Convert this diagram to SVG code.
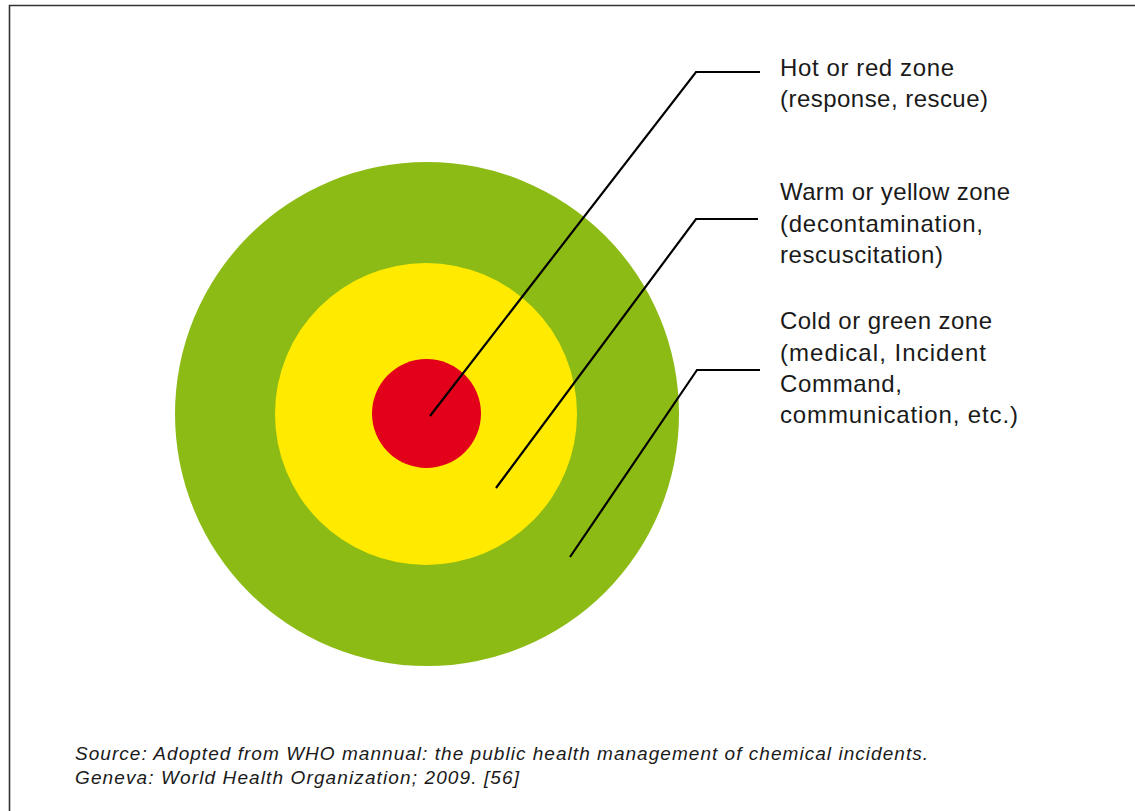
<svg xmlns="http://www.w3.org/2000/svg" width="1135" height="811" viewBox="0 0 1135 811">
<style>
.lbl{font-family:"Liberation Sans",Arial,sans-serif;font-size:24px;fill:#1a1a1a}
.src{font-family:"Liberation Sans",Arial,sans-serif;font-size:19px;font-style:italic;fill:#1a1a1a}
.ln{fill:none;stroke:#000;stroke-width:2.2}
</style>
<rect width="1135" height="811" fill="#fff"/>
<path d="M9.5,811 V5.5 H1135" fill="none" stroke="#333" stroke-width="1.6"/>
<g id="green-zone"><circle cx="427" cy="414" r="252" fill="#8DBB15"/></g>
<g id="yellow-zone"><circle cx="426" cy="414" r="151" fill="#FFEA00"/></g>
<g id="red-zone"><circle cx="426.5" cy="413.5" r="54.5" fill="#E2001A"/></g>
<g id="connectors">
<polyline class="ln" points="430,416 696,72 760,72"/>
<polyline class="ln" points="496,488 696,219 758,219"/>
<polyline class="ln" points="570,557 697,370 760,370"/>
</g>
<g id="label-hot">
<text class="lbl" x="780" y="76" textLength="174" lengthAdjust="spacing">Hot or red zone</text>
<text class="lbl" x="780" y="107" textLength="208" lengthAdjust="spacing">(response, rescue)</text>
</g>
<g id="label-warm">
<text class="lbl" x="780" y="200" textLength="230" lengthAdjust="spacing">Warm or yellow zone</text>
<text class="lbl" x="780" y="232" textLength="203" lengthAdjust="spacing">(decontamination,</text>
<text class="lbl" x="780" y="263" textLength="163" lengthAdjust="spacing">rescuscitation)</text>
</g>
<g id="label-cold">
<text class="lbl" x="780" y="329" textLength="212" lengthAdjust="spacing">Cold or green zone</text>
<text class="lbl" x="780" y="361" textLength="206" lengthAdjust="spacing">(medical, Incident</text>
<text class="lbl" x="780" y="392" textLength="122" lengthAdjust="spacing">Command,</text>
<text class="lbl" x="780" y="423" textLength="238" lengthAdjust="spacing">communication, etc.)</text>
</g>
<g id="source">
<text class="src" x="75" y="760" textLength="853" lengthAdjust="spacing">Source: Adopted from WHO mannual: the public health management of chemical incidents.</text>
<text class="src" x="75" y="784" textLength="444" lengthAdjust="spacing">Geneva: World Health Organization; 2009. [56]</text>
</g>
</svg>
